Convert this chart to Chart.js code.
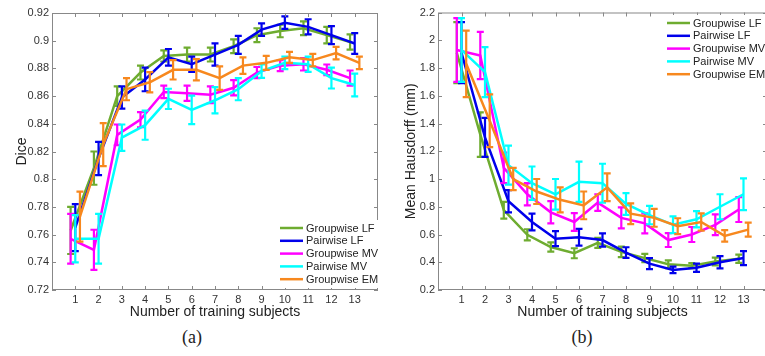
<!DOCTYPE html>
<html>
<head>
<meta charset="utf-8">
<script src="https://cdn.jsdelivr.net/npm/chart.js@4.4.1/dist/chart.umd.min.js"></script>
<style>
  html, body { margin: 0; padding: 0; background: #fff; }
  body { width: 765px; height: 356px; overflow: hidden; position: relative; }
  .panel { position: absolute; top: 0; height: 322px; }
  #pa { left: 0; width: 383px; }
  #pb { left: 385px; width: 385px; }
  .cap { position: absolute; top: 327px; font: 18px "Liberation Serif", serif; color: #222; transform: translateX(-50%); }
</style>
</head>
<body>
<div class="panel" id="pa"><canvas id="diceChart"></canvas></div>
<div class="panel" id="pb"><canvas id="hausChart"></canvas></div>
<div class="cap" style="left:192px">(a)</div>
<div class="cap" style="left:582px">(b)</div>
<script>
const subjects = [1, 2, 3, 4, 5, 6, 7, 8, 9, 10, 11, 12, 13];
const seriesNames = ['Groupwise LF', 'Pairwise LF', 'Groupwise MV', 'Pairwise MV', 'Groupwise EM'];

// Dice (mean and half error bar)
const diceGLF = [0.763, 0.808, 0.860, 0.877, 0.889, 0.890, 0.890, 0.896, 0.904, 0.907, 0.909, 0.904, 0.899];
const diceGLFerr = [0.017, 0.012, 0.007, 0.005, 0.004, 0.005, 0.005, 0.005, 0.005, 0.0045, 0.005, 0.006, 0.0055];
const dicePLF = [0.765, 0.815, 0.859, 0.872, 0.888, 0.883, 0.890, 0.897, 0.908, 0.913, 0.910, 0.904, 0.898];
const dicePLFerr = [0.017, 0.012, 0.008, 0.0085, 0.006, 0.0055, 0.008, 0.0065, 0.0045, 0.0045, 0.0055, 0.0065, 0.0075];
const diceGMV = [0.757, 0.749, 0.832, 0.843, 0.863, 0.862, 0.861, 0.866, 0.877, 0.882, 0.883, 0.879, 0.873];
const diceGMVerr = [0.018, 0.0145, 0.0075, 0.0055, 0.0045, 0.0055, 0.006, 0.0055, 0.004, 0.004, 0.0045, 0.0038, 0.0055];
const dicePMV = [0.757, 0.757, 0.830, 0.839, 0.858, 0.850, 0.857, 0.865, 0.878, 0.884, 0.883, 0.873, 0.868];
const dicePMVerr = [0.017, 0.018, 0.0095, 0.0105, 0.0073, 0.0103, 0.0095, 0.008, 0.0048, 0.0045, 0.0055, 0.0075, 0.0082];
const diceGEM = [0.773, 0.825, 0.865, 0.870, 0.879, 0.879, 0.873, 0.882, 0.884, 0.888, 0.886, 0.891, 0.884];
const diceGEMerr = [0.018, 0.0155, 0.008, 0.0073, 0.007, 0.0077, 0.0085, 0.006, 0.005, 0.004, 0.0045, 0.0045, 0.0045];

// Mean Hausdorff (mm)
const hausGLF = [1.91, 1.32, 0.775, 0.598, 0.51, 0.465, 0.54, 0.475, 0.43, 0.385, 0.375, 0.405, 0.425];
const hausGLFerr = [0.22, 0.16, 0.06, 0.04, 0.033, 0.036, 0.036, 0.038, 0.03, 0.028, 0.018, 0.028, 0.03];
const hausPLF = [1.91, 1.30, 0.84, 0.69, 0.57, 0.58, 0.56, 0.47, 0.39, 0.345, 0.36, 0.40, 0.43];
const hausPLFerr = [0.22, 0.14, 0.08, 0.06, 0.054, 0.06, 0.048, 0.038, 0.04, 0.024, 0.03, 0.044, 0.05];
const hausGMV = [1.93, 1.89, 1.08, 0.89, 0.76, 0.69, 0.83, 0.72, 0.68, 0.56, 0.60, 0.67, 0.78];
const hausGMVerr = [0.23, 0.17, 0.11, 0.08, 0.08, 0.064, 0.06, 0.076, 0.072, 0.05, 0.054, 0.075, 0.09];
const hausPMV = [1.93, 1.77, 1.10, 0.97, 0.89, 0.98, 0.97, 0.82, 0.74, 0.67, 0.71, 0.80, 0.89];
const hausPMVerr = [0.23, 0.18, 0.14, 0.12, 0.11, 0.145, 0.14, 0.078, 0.066, 0.06, 0.058, 0.09, 0.115];
const hausGEM = [1.83, 1.42, 1.00, 0.91, 0.85, 0.81, 0.94, 0.75, 0.72, 0.66, 0.69, 0.59, 0.635];
const hausGEMerr = [0.24, 0.19, 0.08, 0.09, 0.09, 0.1, 0.1, 0.075, 0.064, 0.057, 0.062, 0.042, 0.05];

// styling: colours and the small sideways shift of each series
const colors = ['rgb(110,172,48)', 'rgb(0,0,235)', 'rgb(255,0,255)', 'rgb(0,255,255)', 'rgb(247,136,30)'];
const xShift = [-0.2, 0, -0.2, 0, 0.2];

const tickFont = { family: 'Liberation Sans, Arial, sans-serif', size: 11 };
const titleFont = { family: 'Liberation Sans, Arial, sans-serif', size: 14 };

// error bars + inward ticks + box + legend
const matlabLook = {
  id: 'matlabLook',
  afterDatasetDraw(chart, args) {
    const ds = chart.data.datasets[args.index];
    const meta = args.meta;
    const y = chart.scales.y;
    const ctx = chart.ctx;
    ctx.save();
    ctx.strokeStyle = ds.borderColor;
    ctx.lineWidth = 2.2;
    meta.data.forEach((pt, i) => {
      const v = ds.data[i].y, e = ds.err[i];
      const y1 = y.getPixelForValue(v + e), y2 = y.getPixelForValue(v - e);
      ctx.beginPath();
      ctx.moveTo(pt.x, y1); ctx.lineTo(pt.x, y2);
      ctx.moveTo(pt.x - 3.5, y1); ctx.lineTo(pt.x + 3.5, y1);
      ctx.moveTo(pt.x - 3.5, y2); ctx.lineTo(pt.x + 3.5, y2);
      ctx.stroke();
    });
    ctx.restore();
  },
  afterDraw(chart, args, opts) {
    const ctx = chart.ctx;
    const a = chart.chartArea;
    const xs = chart.scales.x, ys = chart.scales.y;
    ctx.save();
    ctx.strokeStyle = '#888';
    ctx.lineWidth = 1;
    ctx.strokeRect(a.left + 0.5, a.top + 0.5, a.right - a.left - 1, a.bottom - a.top - 1);
    ctx.beginPath();
    xs.ticks.forEach(t => {
      if (t.value < 1 || t.value > 13) return;
      const px = Math.round(xs.getPixelForValue(t.value)) + 0.5;
      ctx.moveTo(px, a.bottom); ctx.lineTo(px, a.bottom - 4);
      ctx.moveTo(px, a.top); ctx.lineTo(px, a.top + 4);
    });
    ys.ticks.forEach(t => {
      const py = Math.round(ys.getPixelForValue(t.value)) + 0.5;
      ctx.moveTo(a.left, py); ctx.lineTo(a.left + 4, py);
      ctx.moveTo(a.right, py); ctx.lineTo(a.right - 4, py);
    });
    ctx.stroke();

    // legend
    const lx = a.left + opts.dx, ly = a.top + opts.dy, step = 12.8;
    ctx.fillStyle = '#fff';
    ctx.fillRect(lx - 4, ly - 8, 104, step * 5 + 4);
    ctx.font = '11px "Liberation Sans", Arial, sans-serif';
    ctx.textBaseline = 'middle';
    chart.data.datasets.forEach((ds, i) => {
      const yy = ly + i * step;
      ctx.strokeStyle = ds.borderColor;
      ctx.lineWidth = 2.5;
      ctx.beginPath();
      ctx.moveTo(lx, yy); ctx.lineTo(lx + 23, yy);
      ctx.stroke();
      ctx.fillStyle = '#222';
      ctx.fillText(ds.label, lx + 26, yy + 0.5);
    });
    ctx.restore();
  }
};

function makeChart(id, means, errs, yMin, yMax, yStep, digits, yTitle, yTitlePad, yWidth, padTop, padRight, legendPos) {
  const datasets = means.map((m, k) => ({
    label: seriesNames[k],
    data: m.map((v, i) => ({ x: subjects[i] + xShift[k], y: v })),
    err: errs[k],
    borderColor: colors[k],
    backgroundColor: colors[k],
    borderWidth: 2.5,
    pointRadius: 0,
    tension: 0,
    order: 5 - k
  }));
  return new Chart(document.getElementById(id), {
    type: 'line',
    data: { datasets },
    plugins: [matlabLook],
    options: {
      responsive: true,
      maintainAspectRatio: false,
      animation: false,
      layout: { padding: { top: padTop, right: padRight, left: 0, bottom: 0 } },
      plugins: {
        legend: { display: false },
        tooltip: { enabled: false },
        matlabLook: legendPos
      },
      scales: {
        x: {
          type: 'linear', min: 0, max: 14,
          ticks: {
            stepSize: 1, autoSkip: false, maxRotation: 0, padding: 3,
            font: tickFont, color: '#333',
            callback: v => (v >= 1 && v <= 13) ? String(v) : ''
          },
          grid: { display: true, drawOnChartArea: false, drawTicks: false },
          border: { display: false },
          title: { display: true, text: 'Number of training subjects', font: titleFont, color: '#222', padding: { top: 0, bottom: 1 } },
          afterFit: s => { s.height = 32; }
        },
        y: {
          min: yMin, max: yMax,
          ticks: {
            stepSize: yStep, padding: 3, font: tickFont, color: '#333',
            callback: v => String(+v.toFixed(digits))
          },
          grid: { display: true, drawOnChartArea: false, drawTicks: false },
          border: { display: false },
          title: { display: true, text: yTitle, font: titleFont, color: '#222', padding: { top: yTitlePad, bottom: 0 } },
          afterFit: s => { s.width = yWidth; }
        }
      }
    }
  });
}

document.addEventListener('DOMContentLoaded', () => {
  makeChart('diceChart',
    [diceGLF, dicePLF, diceGMV, dicePMV, diceGEM],
    [diceGLFerr, dicePLFerr, diceGMVerr, dicePMVerr, diceGEMerr],
    0.72, 0.92, 0.02, 2, 'Dice', 13.6, 52, 13, 5, { dx: 228, dy: 215 });
  makeChart('hausChart',
    [hausGLF, hausPLF, hausGMV, hausPMV, hausGEM],
    [hausGLFerr, hausPLFerr, hausGMVerr, hausPMVerr, hausGEMerr],
    0.2, 2.2, 0.2, 1, 'Mean Hausdorff (mm)', 17.6, 53, 12.5, 3, { dx: 229, dy: 10.5 });
});
</script>
</body>
</html>
